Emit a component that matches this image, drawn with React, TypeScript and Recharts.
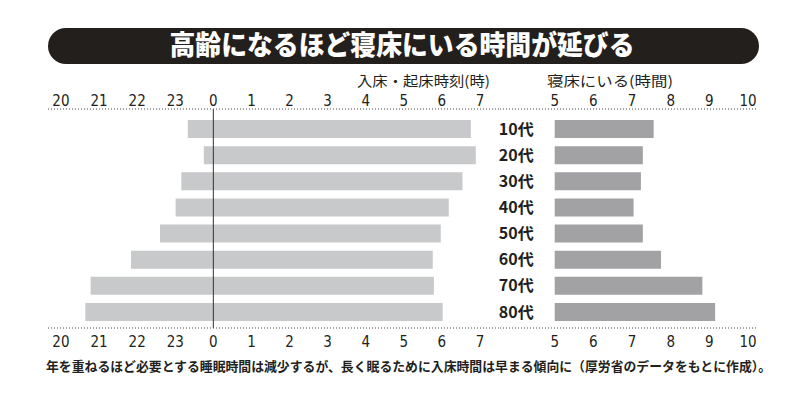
import { BarChart, Bar, XAxis, YAxis, ReferenceLine, LabelList } from "recharts";

const ages = ["10代", "20代", "30代", "40代", "50代", "60代", "70代", "80代"];
// 入床時刻 (0時からの時間、マイナスは前日)
const bedTimes = [-0.67, -0.25, -0.84, -0.99, -1.4, -2.16, -3.22, -3.36];
// 起床時刻
const wakeTimes = [6.76, 6.89, 6.54, 6.18, 5.97, 5.76, 5.79, 6.02];
// 寝床にいる時間
const timeInBed = [7.56, 7.28, 7.23, 7.04, 7.28, 7.75, 8.82, 9.15];

const clockTicks = [-4, -3, -2, -1, 0, 1, 2, 3, 4, 5, 6, 7];
const hourTicks = [5, 6, 7, 8, 9, 10];

const W = 800;
const H = 406;
const numFont = "'Liberation Sans Narrow', 'DejaVu Sans Condensed', Arial, sans-serif";
const jpFont = "'Noto Sans CJK JP', sans-serif";

const data = ages.map((age, i) => ({
  age,
  sleep: [bedTimes[i], wakeTimes[i]],
  inBed: [5, timeInBed[i]],
}));

const clockFmt = (v: number) => String(v < 0 ? v + 24 : v);

const axisLine = { stroke: "#444", strokeDasharray: "1 2" };
const tickStyle = { fill: "#231f20", fontSize: 15, fontFamily: numFont };

export default function App() {
  return (
    <div
      style={{
        position: "absolute",
        left: 0,
        top: 0,
        width: W,
        height: H,
        background: "#fff",
        overflow: "hidden",
      }}
    >
      <svg width={W} height={H} style={{ position: "absolute", left: 0, top: 0 }}>
        <rect x={48} y={28} width={711} height={36} rx={18} ry={18} fill="#231f1c" />
        <text
          x={402}
          y={55}
          textAnchor="middle"
          fill="#fff"
          fontSize={27}
          fontWeight={900}
          fontFamily={jpFont}
          textLength={465}
          lengthAdjust="spacingAndGlyphs"
        >
          高齢になるほど寝床にいる時間が延びる
        </text>
        <text
          x={490}
          y={86}
          textAnchor="end"
          fill="#231f20"
          fontSize={14}
          fontFamily={jpFont}
          textLength={133}
          lengthAdjust="spacingAndGlyphs"
        >
          入床・起床時刻(時)
        </text>
        <text
          x={547}
          y={86}
          fill="#231f20"
          fontSize={14}
          fontFamily={jpFont}
          textLength={126}
          lengthAdjust="spacingAndGlyphs"
        >
          寝床にいる(時間)
        </text>
        <text
          x={46}
          y={371}
          fill="#231f20"
          fontSize={13}
          fontWeight={700}
          fontFamily={jpFont}
          textLength={725}
          lengthAdjust="spacingAndGlyphs"
        >
          年を重ねるほど必要とする睡眠時間は減少するが、長く眠るために入床時間は早まる傾向に（厚労省のデータをもとに作成）。
        </text>
      </svg>

      <div style={{ position: "absolute", left: 0, top: 0 }}>
        <BarChart
          layout="vertical"
          width={W}
          height={H}
          data={data}
          margin={{ top: 79, bottom: 48, left: 48, right: 300 }}
          barSize={18}
        >
          <XAxis
            xAxisId="top"
            orientation="top"
            type="number"
            domain={[-4.34, 7.525]}
            allowDataOverflow
            ticks={clockTicks}
            tickFormatter={clockFmt}
            height={30}
            axisLine={axisLine}
            tickLine={false}
            tickSize={0}
            tickMargin={3}
            tick={tickStyle}
            interval={0}
          />
          <XAxis
            xAxisId="bottom"
            orientation="bottom"
            type="number"
            domain={[-4.34, 7.525]}
            allowDataOverflow
            ticks={clockTicks}
            tickFormatter={clockFmt}
            height={30}
            axisLine={axisLine}
            tickLine={false}
            tickSize={0}
            tickMargin={8}
            tick={tickStyle}
            interval={0}
          />
          <YAxis type="category" dataKey="age" hide padding={{ top: 7, bottom: 3 }} />
          <Bar xAxisId="top" dataKey="sleep" fill="#c8c9cb" isAnimationActive={false} />
          <ReferenceLine xAxisId="top" x={0} stroke="#333" strokeWidth={1} />
        </BarChart>
      </div>

      <div style={{ position: "absolute", left: 0, top: 0 }}>
        <BarChart
          layout="vertical"
          width={W}
          height={H}
          data={data}
          margin={{ top: 79, bottom: 48, left: 500, right: 43 }}
          barSize={18}
        >
          <XAxis
            xAxisId="top"
            orientation="top"
            type="number"
            domain={[3.585, 10.233]}
            allowDataOverflow
            ticks={hourTicks}
            height={30}
            axisLine={axisLine}
            tickLine={false}
            tickSize={0}
            tickMargin={3}
            tick={tickStyle}
            interval={0}
          />
          <XAxis
            xAxisId="bottom"
            orientation="bottom"
            type="number"
            domain={[3.585, 10.233]}
            allowDataOverflow
            ticks={hourTicks}
            height={30}
            axisLine={axisLine}
            tickLine={false}
            tickSize={0}
            tickMargin={8}
            tick={tickStyle}
            interval={0}
          />
          <YAxis type="category" dataKey="age" hide padding={{ top: 7, bottom: 3 }} />
          <Bar xAxisId="top" dataKey="inBed" fill="#a2a2a4" isAnimationActive={false}>
            <LabelList
              dataKey="age"
              position="left"
              offset={21}
              fill="#231f20"
              fontSize={16}
              fontWeight={700}
              fontFamily={jpFont}
            />
          </Bar>
        </BarChart>
      </div>
    </div>
  );
}
